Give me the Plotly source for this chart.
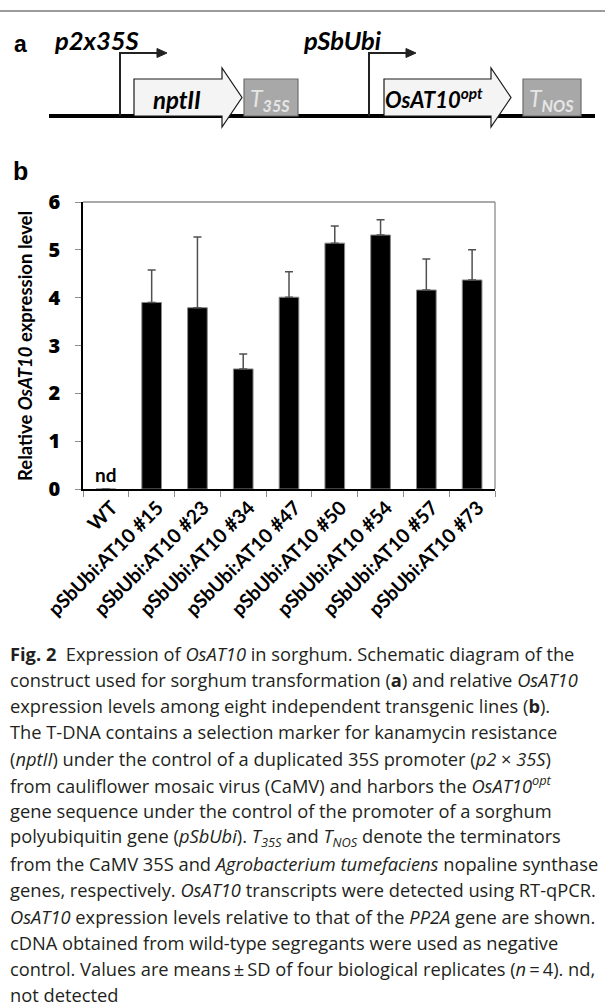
import plotly.graph_objects as go

# ---------------- data ----------------
categories = ["WT", "pSbUbi:AT10 #15", "pSbUbi:AT10 #23", "pSbUbi:AT10 #34",
              "pSbUbi:AT10 #47", "pSbUbi:AT10 #50", "pSbUbi:AT10 #54",
              "pSbUbi:AT10 #57", "pSbUbi:AT10 #73"]
means = [0.0, 3.90, 3.79, 2.51, 4.01, 5.14, 5.31, 4.16, 4.37]
sds = [None, 0.68, 1.48, 0.31, 0.53, 0.36, 0.32, 0.65, 0.63]
y_ticks = [0, 1, 2, 3, 4, 5, 6]

caption_lines = [
    "<b>Fig. 2</b>\u00a0\u00a0Expression of <i>OsAT10</i> in sorghum. Schematic diagram of the",
    "construct used for sorghum transformation (<b>a</b>) and relative <i>OsAT10</i>",
    "expression levels among eight independent transgenic lines (<b>b</b>).",
    "The T-DNA contains a selection marker for kanamycin resistance",
    "(<i>nptII</i>) under the control of a duplicated 35S promoter (<i>p2</i> × <i>35S</i>)",
    "from cauliflower mosaic virus (CaMV) and harbors the <i>OsAT10</i><sup><i>opt</i></sup>",
    "gene sequence under the control of the promoter of a sorghum",
    "polyubiquitin gene (<i>pSbUbi</i>). <i>T</i><sub><i>35S</i></sub> and <i>T</i><sub><i>NOS</i></sub> denote the terminators",
    "from the CaMV 35S and <i>Agrobacterium tumefaciens</i> nopaline synthase",
    "genes, respectively. <i>OsAT10</i> transcripts were detected using RT-qPCR.",
    "<i>OsAT10</i> expression levels relative to that of the <i>PP2A</i> gene are shown.",
    "cDNA obtained from wild-type segregants were used as negative",
    "control. Values are means\u2009±\u2009SD of four biological replicates (<i>n</i>\u2009=\u20094). nd,",
    "not detected",
]

# ---------------- layout helpers (pixel -> paper) ----------------
W, H = 605, 1008
L, R, T, B = 83, 495, 202, 489


def px(x):
    return (x - L) / (R - L)


def py(y):
    return (B - y) / (B - T)


CHART_FONT = "Lato"
CAP_FONT = "Open Sans"

fig = go.Figure()
fig.add_trace(go.Bar(
    x=categories, y=means, width=0.43,
    marker=dict(color="black", line=dict(color="#8a8a8a", width=1)),
    error_y=dict(type="data", symmetric=False, array=sds,
                 arrayminus=[None if s is None else 0 for s in sds],
                 color="#505050", thickness=1.5, width=4),
    hoverinfo="skip", showlegend=False,
))

shapes = []
# frame top/right (grey)
shapes.append(dict(type="line", xref="paper", yref="paper", x0=0, x1=1, y0=1, y1=1,
                   line=dict(color="#8c8c8c", width=1.3)))
shapes.append(dict(type="line", xref="paper", yref="paper", x0=1, x1=1, y0=0, y1=1,
                   line=dict(color="#8c8c8c", width=1.3)))
# page top rule
shapes.append(dict(type="line", xref="paper", yref="paper", x0=px(0), x1=px(605),
                   y0=py(11), y1=py(11), line=dict(color="#7a7a7a", width=1.5)))

# ----- schematic (panel a) -----
def path(points, close=True):
    s = "M " + " L ".join(f"{px(x):.5f},{py(y):.5f}" for x, y in points)
    return s + (" Z" if close else "")

base_y = 116
shapes.append(dict(type="line", xref="paper", yref="paper", x0=px(49), x1=px(595),
                   y0=py(base_y), y1=py(base_y), line=dict(color="black", width=4)))

# promoter arrows
for xv, xe in [(120, 158), (369, 407)]:
    shapes.append(dict(type="path", xref="paper", yref="paper",
                       path=path([(xv, base_y), (xv, 53), (xe, 53)], close=False),
                       line=dict(color="#222222", width=2)))
    shapes.append(dict(type="path", xref="paper", yref="paper",
                       path=path([(xe - 1, 48.5), (xe + 9, 53), (xe - 1, 57.5)]),
                       fillcolor="#222222", line=dict(color="#222222", width=1)))

# gene arrows
for x0, xs, xt in [(134, 222, 242), (384, 491, 511)]:
    shapes.append(dict(type="path", xref="paper", yref="paper",
                       path=path([(x0, 79), (xs, 79), (xs, 68), (xt, 97.5),
                                  (xs, 127), (xs, 116), (x0, 116)]),
                       fillcolor="#f4f4f4", line=dict(color="#1a1a1a", width=1.2)))

# terminator boxes
for x0, x1 in [(244, 298), (523, 581)]:
    shapes.append(dict(type="rect", xref="paper", yref="paper",
                       x0=px(x0), x1=px(x1), y0=py(116), y1=py(79),
                       fillcolor="#a8a8a8", line=dict(color="#6e6e6e", width=1.2)))

ann = []


def add_text(text, x, y, size, xanchor="center", yanchor="middle", color="black",
             family=CHART_FONT, angle=0):
    ann.append(dict(text=text, x=px(x), y=py(y), xref="paper", yref="paper",
                    showarrow=False, xanchor=xanchor, yanchor=yanchor, textangle=angle,
                    font=dict(family=family, size=size, color=color)))


add_text("<b>a</b>", 20, 44, 23, family="Liberation Sans")
add_text("<b>b</b>", 20, 171, 25, family="Liberation Sans")
add_text("<b><i>p2x35S</i></b>", 52, 40, 25.5, xanchor="left")
add_text("<b><i>pSbUbi</i></b>", 301, 40, 25.5, xanchor="left")
add_text("<b><i>nptII</i></b>", 177, 99, 24)
add_text("<b><i>OsAT10<sup>opt</sup></i></b>", 434, 98, 22)
add_text("<i>T<sub><b>35S</b></sub></i>", 270, 99, 23, color="#e6e6e6")
add_text("<i>T<sub><b>NOS</b></sub></i>", 551, 99, 23, color="#e6e6e6")

# y axis title
add_text("<b>Relative <i>OsAT10</i> expression level</b>", 25, 346, 18.5, angle=-90)

# nd label on WT
ann.append(dict(text="<b>nd</b>", x=categories[0], y=0, xref="x", yref="y", showarrow=False,
                xanchor="center", yanchor="bottom", yshift=1,
                font=dict(family=CHART_FONT, size=19, color="black")))

# caption
cap_y0, cap_dy = 653, 26.3
for i, line in enumerate(caption_lines):
    add_text(line, 8, cap_y0 + i * cap_dy, 18.3, xanchor="left", family=CAP_FONT,
             color="#231f20")

fig.update_layout(
    width=W, height=H,
    margin=dict(l=L, r=W - R, t=T, b=H - B, pad=0),
    paper_bgcolor="white", plot_bgcolor="white",
    shapes=shapes, annotations=ann,
    xaxis=dict(type="category", tickson="boundaries", ticks="outside", ticklen=6,
               tickcolor="#8c8c8c", tickwidth=1.2, tickangle=-45,
               tickvals=categories, ticktext=[f"<b>{c}</b>" for c in categories],
               ticklabelshift=6, ticklabelstandoff=-2,
               showline=True, linecolor="black", linewidth=1.5, showgrid=False,
               tickfont=dict(family=CHART_FONT, size=19.5, color="black")),
    yaxis=dict(range=[0, 6], tickvals=y_ticks, ticktext=[str(v) for v in y_ticks],
               ticks="outside", ticklen=6, tickcolor="#8c8c8c", tickwidth=1.2,
               showline=True, linecolor="black", linewidth=1.5, showgrid=False,
               zeroline=False, ticklabelstandoff=11,
               tickfont=dict(family="Open Sans", size=20, color="black", weight=800)),
)

fig.write_html("out.html")
